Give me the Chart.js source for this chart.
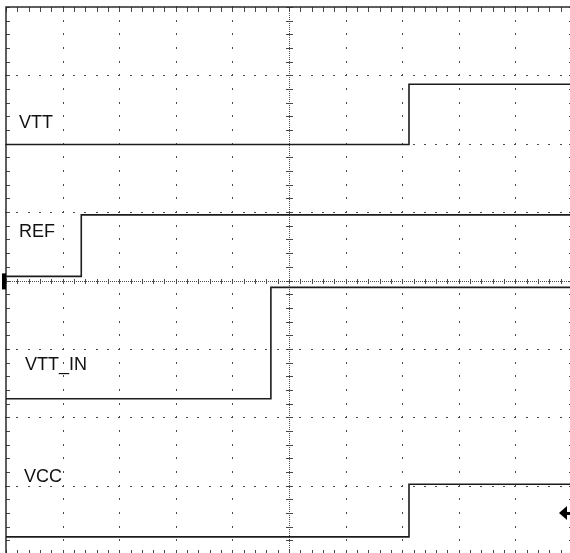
<!DOCTYPE html>
<html lang="en">
<head>
<meta charset="UTF-8">
<title>Power-up sequence</title>
<style>
  html, body { margin: 0; padding: 0; background: #fff; overflow: hidden; }
  #wrap { position: absolute; left: 0; top: 0; width: 580px; height: 562px; }
</style>
<script src="https://cdn.jsdelivr.net/npm/chart.js"></script>
</head>
<body>
<div id="wrap"><canvas id="scope" width="580" height="562"></canvas></div>
<script>
// screen is 10 x 8 divisions, values below are in divisions
const channels = ["VTT", "REF", "VTT_IN", "VCC"];
const lowLevels = [5.99, 4.06, 2.27, 0.25];
const highLevels = [6.87, 4.96, 3.90, 1.02];
const stepTimes = [7.12, 1.33, 4.68, 7.12];
const xDivs = 10, yDivs = 8, minorPerDiv = 5;

// label placement (pixels)
const labelPos = [[19, 128], [19, 237], [25, 370], [24, 482]];

const datasets = channels.map((name, i) => ({
  label: name,
  data: [
    { x: 0, y: lowLevels[i] },
    { x: stepTimes[i], y: lowLevels[i] },
    { x: stepTimes[i], y: highLevels[i] },
    { x: xDivs, y: highLevels[i] }
  ],
  borderColor: "#1c1c1c",
  borderWidth: 1.6,
  pointRadius: 0,
  tension: 0
}));

const scopeGrid = {
  id: "scopeGrid",
  beforeDatasetsDraw(chart) {
    const ctx = chart.ctx;
    const xs = chart.scales.x, ys = chart.scales.y;
    const px = v => Math.round(xs.getPixelForValue(v));
    const py = v => Math.round(ys.getPixelForValue(v));
    const left = px(0), right = px(xDivs), top = py(yDivs), bottom = py(0);
    ctx.save();
    ctx.fillStyle = "#4a4a4a";
    // dotted major lines
    for (let i = 1; i < xDivs; i++) {
      if (i === xDivs / 2) continue;
      for (let j = 0; j <= yDivs * minorPerDiv; j++) {
        ctx.fillRect(px(i), py(j / minorPerDiv) - 1, 1, 2);
      }
    }
    for (let j = 1; j < yDivs; j++) {
      if (j === yDivs / 2) continue;
      for (let i = 0; i <= xDivs * minorPerDiv; i++) {
        ctx.fillRect(px(i / minorPerDiv) - 1, py(j), 2, 1);
      }
    }
    // center crosshair
    const cx = px(xDivs / 2), cy = py(yDivs / 2);
    for (let y = top; y <= bottom; y += 2) ctx.fillRect(cx, y, 1, 1);
    for (let x = left; x <= right; x += 2) ctx.fillRect(x, cy, 1, 1);
    for (let j = 0; j <= yDivs * minorPerDiv; j++) {
      ctx.fillRect(cx - 3, py(j / minorPerDiv), 7, 1);
    }
    for (let i = 0; i <= xDivs * minorPerDiv; i++) {
      ctx.fillRect(px(i / minorPerDiv), cy - 2, 1, 5);
    }
    // border ticks
    for (let i = 0; i <= xDivs * minorPerDiv; i++) {
      ctx.fillRect(px(i / minorPerDiv), top, 1, 5);
      ctx.fillRect(px(i / minorPerDiv), bottom - 4, 1, 5);
    }
    for (let j = 0; j <= yDivs * minorPerDiv; j++) {
      ctx.fillRect(left, py(j / minorPerDiv), 4, 1);
      ctx.fillRect(right - 3, py(j / minorPerDiv), 4, 1);
    }
    // border
    ctx.strokeStyle = "#2a2a2a";
    ctx.lineWidth = 1.5;
    ctx.strokeRect(left, top, right - left, bottom - top);
    ctx.restore();
  },
  afterDatasetsDraw(chart) {
    const ctx = chart.ctx;
    const ys = chart.scales.y;
    ctx.save();
    // channel labels
    ctx.fillStyle = "#111";
    ctx.font = '18px "Liberation Sans", Arial, sans-serif';
    ctx.textAlign = "left";
    ctx.textBaseline = "alphabetic";
    channels.forEach((name, i) => ctx.fillText(name, labelPos[i][0], labelPos[i][1]));
    // ground marker on REF
    const gy = ys.getPixelForValue(lowLevels[1]);
    ctx.fillStyle = "#000";
    ctx.fillRect(2, gy - 3, 4, 16);
    // trigger arrow at right edge
    const ay = ys.getPixelForValue(0.6);
    const ax = 559;
    ctx.beginPath();
    ctx.moveTo(ax, ay);
    ctx.lineTo(ax + 8, ay - 7);
    ctx.lineTo(ax + 8, ay + 7);
    ctx.closePath();
    ctx.fill();
    ctx.fillRect(ax + 7, ay - 1, 6, 3);
    ctx.restore();
  }
};

new Chart(document.getElementById("scope"), {
  type: "line",
  data: { datasets },
  options: {
    responsive: false,
    animation: false,
    layout: { padding: { left: 6, top: 7, right: 8, bottom: 8 } },
    plugins: { legend: { display: false }, tooltip: { enabled: false } },
    scales: {
      x: {
        type: "linear", min: 0, max: xDivs,
        ticks: { display: false },
        grid: { display: false, drawTicks: false },
        border: { display: false }
      },
      y: {
        type: "linear", min: 0, max: yDivs,
        ticks: { display: false },
        grid: { display: false, drawTicks: false },
        border: { display: false }
      }
    }
  },
  plugins: [scopeGrid]
});
</script>
</body>
</html>
